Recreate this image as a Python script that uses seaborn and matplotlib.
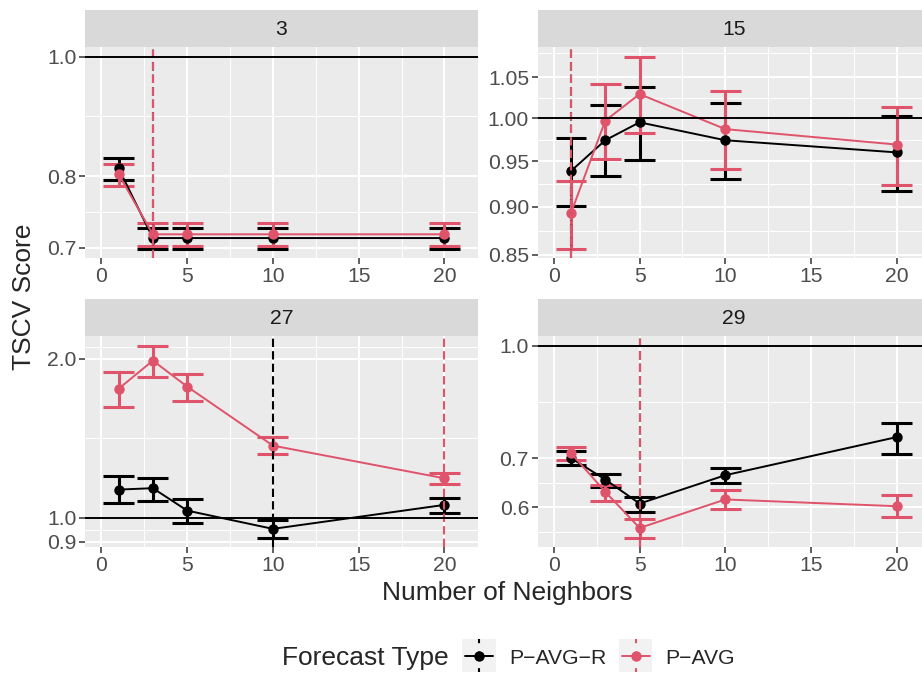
import numpy as np
import pandas as pd
import matplotlib
matplotlib.use("Agg")
import matplotlib.pyplot as plt
from matplotlib.ticker import FixedLocator, FixedFormatter, NullFormatter
import seaborn as sns

W, H = 922, 677

neighbors = [1, 3, 5, 10, 20]
horizons = ["3", "15", "27", "29"]
forecast_types = ["P\u2212AVG\u2212R", "P\u2212AVG"]
type_colors = ["#000000", "#DF536B"]

# horizon 3
h3_r = [0.812, 0.713, 0.713, 0.713, 0.713]
h3_r_lo = [0.795, 0.699, 0.699, 0.699, 0.699]
h3_r_hi = [0.828, 0.727, 0.727, 0.727, 0.727]
h3_a = [0.803, 0.718, 0.718, 0.718, 0.718]
h3_a_lo = [0.786, 0.703, 0.703, 0.703, 0.703]
h3_a_hi = [0.818, 0.733, 0.733, 0.733, 0.733]

# horizon 15
h15_r = [0.939, 0.974, 0.995, 0.974, 0.960]
h15_r_lo = [0.901, 0.933, 0.951, 0.930, 0.917]
h15_r_hi = [0.977, 1.016, 1.038, 1.018, 1.003]
h15_a = [0.893, 0.997, 1.029, 0.987, 0.969]
h15_a_lo = [0.856, 0.952, 0.982, 0.941, 0.924]
h15_a_hi = [0.928, 1.042, 1.076, 1.033, 1.013]

# horizon 27
h27_r = [1.131, 1.138, 1.032, 0.953, 1.058]
h27_r_lo = [1.066, 1.078, 0.978, 0.917, 1.022]
h27_r_hi = [1.199, 1.190, 1.086, 0.991, 1.091]
h27_a = [1.755, 1.985, 1.772, 1.370, 1.188]
h27_a_lo = [1.620, 1.846, 1.667, 1.322, 1.160]
h27_a_hi = [1.886, 2.119, 1.873, 1.421, 1.218]

# horizon 29
h29_r = [0.701, 0.655, 0.607, 0.664, 0.749]
h29_r_lo = [0.686, 0.640, 0.592, 0.648, 0.711]
h29_r_hi = [0.716, 0.667, 0.619, 0.680, 0.784]
h29_a = [0.712, 0.630, 0.562, 0.615, 0.602]
h29_a_lo = [0.697, 0.612, 0.545, 0.596, 0.582]
h29_a_hi = [0.727, 0.644, 0.579, 0.634, 0.623]

# best number of neighbors (dashed lines)
best_r = [3, 1, 10, 5]
best_a = [3, 1, 20, 5]

# y axis breaks per panel
yticks_3 = [0.7, 0.8, 1.0]
yticks_15 = [0.85, 0.90, 0.95, 1.00, 1.05]
yticks_27 = [0.9, 1.0, 2.0]
yticks_29 = [0.6, 0.7, 1.0]
ytick_fmt = ["{:.1f}", "{:.2f}", "{:.1f}", "{:.1f}"]
xticks = [0, 5, 10, 15, 20]

series = {
    "3": [(h3_r, h3_r_lo, h3_r_hi), (h3_a, h3_a_lo, h3_a_hi)],
    "15": [(h15_r, h15_r_lo, h15_r_hi), (h15_a, h15_a_lo, h15_a_hi)],
    "27": [(h27_r, h27_r_lo, h27_r_hi), (h27_a, h27_a_lo, h27_a_hi)],
    "29": [(h29_r, h29_r_lo, h29_r_hi), (h29_a, h29_a_lo, h29_a_hi)],
}
rows = []
for hz in horizons:
    for ft, (sc, lo, hi) in zip(forecast_types, series[hz]):
        for k, s, l, u in zip(neighbors, sc, lo, hi):
            rows.append({"horizon": hz, "forecast": ft, "neighbors": k,
                         "score": s, "lo": l, "hi": u})
df = pd.DataFrame(rows)
best = pd.DataFrame({"horizon": horizons * 2,
                     "forecast": [forecast_types[0]] * 4 + [forecast_types[1]] * 4,
                     "k": best_r + best_a})

sns.set_theme(style="darkgrid", rc={"axes.facecolor": "#EBEBEB", "grid.color": "white"})
plt.rcParams["font.family"] = ["Liberation Sans", "DejaVu Sans"]

TITLE_SIZE = 19
TEXT_SIZE = 15.2


def minor_breaks(major, lims):
    b = np.log10(major)
    lo, hi = np.log10(lims)
    bd = b[1] - b[0]
    if lo < b[0]:
        b = np.r_[b[0] - bd, b]
    if hi > b[-1]:
        b = np.r_[b, b[-1] + bd]
    m = 10 ** ((b[:-1] + b[1:]) / 2)
    return m[(m > lims[0]) & (m < lims[1])]


def fig_box(x, y, w, h):
    return [x / W, 1 - (y + h) / H, w / W, h / H]


fig = plt.figure(figsize=(W / 100, H / 100), dpi=100)

col_x = [85.3, 537.7]
row_y = [47, 336]
pw, ph, sh = 392.4, 211.3, 37
cap = 0.9

x_lo = min(neighbors) - cap
x_hi = max(neighbors) + cap
x_pad = (x_hi - x_lo) * 0.05
xlim = (x_lo - x_pad, x_hi + x_pad)

all_yticks = [yticks_3, yticks_15, yticks_27, yticks_29]

for i, hz in enumerate(horizons):
    r, c = divmod(i, 2)
    ax = fig.add_axes(fig_box(col_x[c], row_y[r], pw, ph))
    sax = fig.add_axes(fig_box(col_x[c], row_y[r] - sh, pw, sh))
    sax.set_facecolor("#D9D9D9")
    sax.set_xticks([])
    sax.set_yticks([])
    sax.grid(False)
    for s in sax.spines.values():
        s.set_visible(False)
    sax.text(0.5, 0.47, hz, ha="center", va="center", size=TEXT_SIZE, color="#1A1A1A",
             transform=sax.transAxes)

    sub = df[df["horizon"] == hz]
    for ft, col in zip(forecast_types, type_colors):
        d = sub[sub["forecast"] == ft]
        ax.vlines(d["neighbors"], d["lo"], d["hi"], color=col, lw=2.2, zorder=3)
        ax.hlines(d["lo"], d["neighbors"] - cap, d["neighbors"] + cap, color=col, lw=2.2, zorder=3)
        ax.hlines(d["hi"], d["neighbors"] - cap, d["neighbors"] + cap, color=col, lw=2.2, zorder=3)

    sns.lineplot(data=sub, x="neighbors", y="score", hue="forecast",
                 hue_order=forecast_types, palette=type_colors, marker="o",
                 markersize=7.5, markeredgewidth=0, linewidth=1.4, legend=False,
                 errorbar=None, ax=ax, zorder=4)

    bsub = best[best["horizon"] == hz]
    for ft, col in zip(forecast_types, type_colors):
        kk = bsub[bsub["forecast"] == ft]["k"].values[0]
        ax.axvline(kk, color=col, lw=1.5, linestyle=(0, (4, 2)), zorder=5)
    ax.axhline(1.0, color="black", lw=1.4, zorder=5)

    ax.set_yscale("log")
    ylo = np.log(min(sub["lo"].min(), 1.0))
    yhi = np.log(max(sub["hi"].max(), 1.0))
    ypad = (yhi - ylo) * 0.05
    ylim = (np.exp(ylo - ypad), np.exp(yhi + ypad))
    ax.set_ylim(ylim)
    ax.set_xlim(xlim)

    yt = all_yticks[i]
    ax.yaxis.set_major_locator(FixedLocator(yt))
    ax.yaxis.set_major_formatter(FixedFormatter([ytick_fmt[i].format(v) for v in yt]))
    ax.yaxis.set_minor_locator(FixedLocator(minor_breaks(yt, ylim)))
    ax.yaxis.set_minor_formatter(NullFormatter())
    ax.xaxis.set_major_locator(FixedLocator(xticks))
    ax.xaxis.set_minor_locator(FixedLocator(np.arange(-2.5, 25, 5)))
    ax.grid(which="major", color="white", lw=1.4)
    ax.grid(which="minor", color="white", lw=0.7)
    ax.set_axisbelow(True)
    ax.tick_params(which="major", length=4, width=1.1, color="#333333",
                   labelcolor="#4D4D4D", labelsize=TEXT_SIZE, pad=2.2,
                   bottom=True, left=True)
    ax.tick_params(which="minor", length=0)
    ax.set_xlabel("")
    ax.set_ylabel("")
    for s in ax.spines.values():
        s.set_visible(False)

fig.text(24 / W, 1 - 297 / H, "TSCV Score", rotation=90, ha="center", va="center", size=TITLE_SIZE)
fig.text(507.6 / W, 1 - 600 / H, "Number of Neighbors", ha="center", va="baseline", size=TITLE_SIZE)

# legend
fig.text(281.7 / W, 1 - 665 / H, "Forecast Type", ha="left", va="baseline", size=TITLE_SIZE)
key_x = [462.3, 619.0]
label_x = [509.3, 665.0]
for ft, col, kx, lx in zip(forecast_types, type_colors, key_x, label_x):
    kax = fig.add_axes(fig_box(kx, 639, 33.4, 33.4))
    kax.set_facecolor("#F2F2F2")
    kax.set_xlim(0, 1)
    kax.set_ylim(0, 1)
    kax.set_xticks([])
    kax.set_yticks([])
    kax.grid(False)
    for s in kax.spines.values():
        s.set_visible(False)
    kax.plot([0.5, 0.5], [1, 0], color=col, lw=1.5, linestyle=(2, (4, 4)))
    kax.plot([0.08, 0.92], [0.5, 0.5], color=col, lw=1.4)
    kax.plot([0.5], [0.5], marker="o", markersize=7.5, markeredgewidth=0, color=col)
    fig.text(lx / W, 1 - 664 / H, ft, ha="left", va="baseline", size=TEXT_SIZE)

fig.savefig("out.png", dpi=100)
